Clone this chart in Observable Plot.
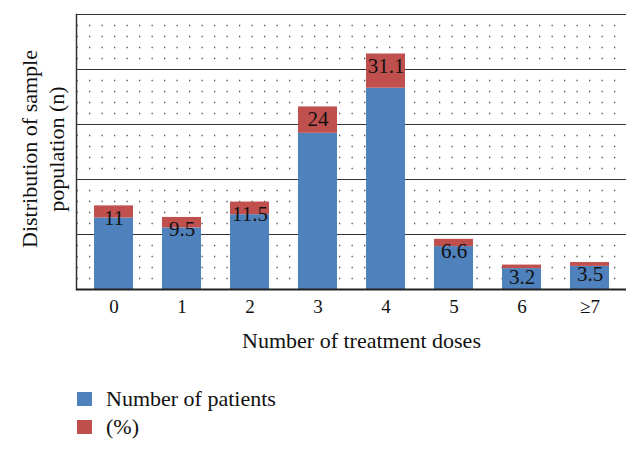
<!DOCTYPE html>
<html>
<head>
<meta charset="utf-8">
<script src="https://cdn.jsdelivr.net/npm/d3@7"></script>
<script src="https://cdn.jsdelivr.net/npm/@observablehq/plot@0.6"></script>
<style>
  html, body { margin: 0; padding: 0; background: #fff; }
  #wrap { position: relative; width: 640px; height: 451px; font-family: "Liberation Serif", serif; }
  #legend { position: absolute; left: 77px; top: 385px; font-size: 22px; color: #111; }
  .row { display: flex; align-items: center; height: 28px; }
  .sw { width: 15px; height: 14px; margin-right: 14px; }
</style>
</head>
<body>
<div id="wrap">
  <div id="chart"></div>
  <div id="legend"></div>
</div>
<script>
const doses = ["0", "1", "2", "3", "4", "5", "6", "≥7"];
const patients = [65, 56, 68, 142, 183, 39, 19, 21];
const percent = [11, 9.5, 11.5, 24, 31.1, 6.6, 3.2, 3.5];
const seriesNames = ["Number of patients", "(%)"];
const seriesColors = ["#4F81BD", "#C0504D"];
const majorTicks = [50, 100, 150, 200, 250];
const minorTicks = [10, 20, 30, 40, 60, 70, 80, 90, 110, 120, 130, 140, 160, 170, 180, 190, 210, 220, 230, 240];
const xTitle = "Number of treatment doses";
const yTitle = "Distribution of sample\npopulation (n)";

const table = doses.map((d, i) => ({dose: d, n: patients[i], p: percent[i]}));
const long = [];
table.forEach(r => {
  long.push({dose: r.dose, series: seriesNames[0], value: r.n});
  long.push({dose: r.dose, series: seriesNames[1], value: r.p});
});

const chart = Plot.plot({
  width: 640,
  height: 375,
  marginLeft: 76,
  marginRight: 14,
  marginTop: 14,
  marginBottom: 86,
  style: {fontFamily: "Liberation Serif, serif", fontSize: "19px", color: "#111", background: "#fff"},
  x: {domain: doses, paddingInner: 0.43, paddingOuter: 0.21, label: null},
  y: {domain: [0, 250], axis: null},
  color: {domain: seriesNames, range: seriesColors},
  marks: [
    Plot.ruleY(minorTicks, {stroke: "#555", strokeWidth: 1.3, strokeDasharray: "1.3,11.2", strokeDashoffset: 12}),
    Plot.ruleY(majorTicks, {stroke: "#333", strokeWidth: 1.2}),
    Plot.frame({anchor: "left", stroke: "#333", strokeWidth: 1.5}),
    Plot.barY(long, {x: "dose", y: "value", fill: "series"}),
    Plot.ruleY([0], {stroke: "#222", strokeWidth: 2}),
    Plot.text(table, {x: "dose", y: d => d.n + d.p, text: d => String(d.p), lineAnchor: "top", dy: 4, fontSize: 21, fill: "#111"}),
    Plot.axisX({tickSize: 0, tickPadding: 10, fontSize: 19, label: null}),
    Plot.text([xTitle], {frameAnchor: "bottom", dy: 51, dx: 10, fontSize: 22, lineAnchor: "middle", fill: "#111"}),
    Plot.text([yTitle], {frameAnchor: "left", textAnchor: "middle", rotate: -90, dx: -35, dy: -3, fontSize: 22, lineHeight: 1.25, fill: "#111"})
  ]
});
document.getElementById("chart").appendChild(chart);

const legend = document.getElementById("legend");
seriesNames.forEach((name, i) => {
  const row = document.createElement("div");
  row.className = "row";
  const sw = document.createElement("span");
  sw.className = "sw";
  sw.style.background = seriesColors[i];
  const t = document.createElement("span");
  t.textContent = name;
  row.appendChild(sw);
  row.appendChild(t);
  legend.appendChild(row);
});
</script>
</body>
</html>
